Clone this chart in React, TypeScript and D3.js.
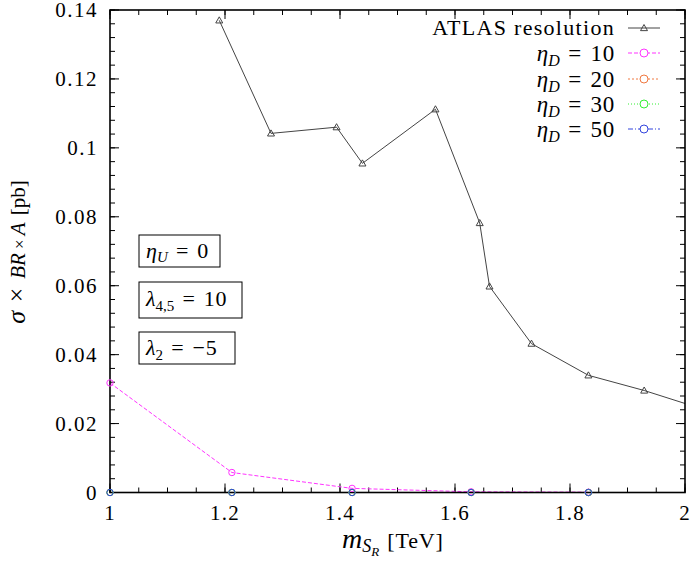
import React from "react";
import * as d3 from "d3";

const atlasX = [1.19, 1.28, 1.394, 1.439, 1.566, 1.643, 1.66, 1.733, 1.832, 1.929, 2.04];
const atlasY = [0.137, 0.1042, 0.106, 0.0955, 0.1112, 0.0782, 0.0598, 0.0432, 0.034, 0.0296, 0.0237];

const etaX = [1.0, 1.212, 1.421, 1.628, 1.832];
const eta10 = [0.0318, 0.0058, 0.0012, 0.0002, 0.0001];
const eta20 = [0, 0, 0, 0, 0];
const eta30 = [0, 0, 0, 0, 0];
const eta50 = [0, 0, 0, 0, 0];

const xTicks = [1, 1.2, 1.4, 1.6, 1.8, 2];
const xTickLabels = ["1", "1.2", "1.4", "1.6", "1.8", "2"];
const yTicks = [0, 0.02, 0.04, 0.06, 0.08, 0.1, 0.12, 0.14];
const yTickLabels = ["0", "0.02", "0.04", "0.06", "0.08", "0.1", "0.12", "0.14"];

const etaSeries = [
  { label: "10", values: eta10, color: "#ff33ff", dash: "4,2" },
  { label: "20", values: eta20, color: "#f07840", dash: "2,2" },
  { label: "30", values: eta30, color: "#33ee33", dash: "1,2" },
  { label: "50", values: eta50, color: "#3344dd", dash: "5,2,1,2" },
];

const W = 694;
const H = 561;
const L = 110, R = 685, T = 10, B = 492.5;
const FONT = "'Liberation Serif', 'Times New Roman', serif";
const SP = "\u2004";

export default function App() {
  const x = d3.scaleLinear().domain([1, 2]).range([L, R]);
  const y = d3.scaleLinear().domain([0, 0.14]).range([B, T]);
  const minorX = d3.range(1, 2.0001, 0.05);
  const minorY = d3.range(0, 0.14001, 0.004);

  const line = d3
    .line<[number, number]>()
    .x((d) => x(d[0]))
    .y((d) => y(d[1]));

  const atlasPts: [number, number][] = atlasX.map((v, i) => [v, atlasY[i]]);
  const tri = (cx: number, cy: number, s = 3.5) =>
    `M${cx},${cy - s} L${cx + s},${cy + s * 0.75} L${cx - s},${cy + s * 0.75} Z`;

  const legendRows = [28, 53, 79, 104, 129];
  const legTextX = 615;
  const legS0 = 628, legS1 = 660, legM = 644;

  return (
    <svg width={W} height={H} style={{ position: "absolute", left: 0, top: 0 }} fontFamily={FONT}>
      <rect x={0} y={0} width={W} height={H} fill="#fff" />
      <defs>
        <clipPath id="plotclip">
          <rect x={L} y={T} width={R - L} height={B - T} />
        </clipPath>
      </defs>

      {/* minor ticks */}
      {minorX.map((v, i) => (
        <g key={"mx" + i} stroke="#000" strokeWidth={1}>
          <line x1={x(v)} x2={x(v)} y1={B} y2={B - 5} />
          <line x1={x(v)} x2={x(v)} y1={T} y2={T + 5} />
        </g>
      ))}
      {minorY.map((v, i) => (
        <g key={"my" + i} stroke="#000" strokeWidth={1}>
          <line x1={L} x2={L + 5} y1={y(v)} y2={y(v)} />
          <line x1={R} x2={R - 5} y1={y(v)} y2={y(v)} />
        </g>
      ))}
      {/* major ticks */}
      {xTicks.map((v, i) => (
        <g key={"Mx" + i} stroke="#000" strokeWidth={1}>
          <line x1={x(v)} x2={x(v)} y1={B} y2={B - 9} />
          <line x1={x(v)} x2={x(v)} y1={T} y2={T + 9} />
        </g>
      ))}
      {yTicks.map((v, i) => (
        <g key={"My" + i} stroke="#000" strokeWidth={1}>
          <line x1={L} x2={L + 9} y1={y(v)} y2={y(v)} />
          <line x1={R} x2={R - 9} y1={y(v)} y2={y(v)} />
        </g>
      ))}

      {/* tick labels */}
      {xTicks.map((v, i) => (
        <text key={"xl" + i} x={x(v)} y={520} fontSize={21} letterSpacing={1.2} textAnchor="middle" fill="#000">
          {xTickLabels[i]}
        </text>
      ))}
      {yTicks.map((v, i) => (
        <text key={"yl" + i} x={98} y={y(v) + 7} fontSize={21} letterSpacing={1.5} textAnchor="end" fill="#000">
          {yTickLabels[i]}
        </text>
      ))}

      {/* series lines */}
      <g clipPath="url(#plotclip)">
        {etaSeries.map((s) => (
          <path
            key={"l" + s.label}
            d={line(etaX.map((v, i) => [v, s.values[i]] as [number, number])) || ""}
            fill="none"
            stroke={s.color}
            strokeWidth={1}
            strokeDasharray={s.dash}
          />
        ))}
        <path d={line(atlasPts) || ""} fill="none" stroke="#444" strokeWidth={1} />
      </g>

      {/* frame */}
      <rect x={L} y={T} width={R - L} height={B - T} fill="none" stroke="#000" strokeWidth={1.6} />

      {/* markers */}
      {etaSeries.map((s) =>
        etaX.map((v, i) => (
          <circle
            key={"c" + s.label + i}
            cx={x(v)}
            cy={y(s.values[i])}
            r={3.2}
            fill="none"
            stroke={s.color}
            strokeWidth={1}
          />
        ))
      )}
      {atlasPts
        .filter((p) => p[0] <= 2)
        .map((p, i) => (
          <path key={"t" + i} d={tri(x(p[0]), y(p[1]))} fill="none" stroke="#444" strokeWidth={1} />
        ))}

      {/* legend */}
      <text x={legTextX} y={legendRows[0] + 7} fontSize={22} letterSpacing={1.3} textAnchor="end" fill="#000">
        ATLAS resolution
      </text>
      <line x1={legS0} x2={legS1} y1={legendRows[0]} y2={legendRows[0]} stroke="#444" strokeWidth={1} />
      <path d={tri(legM, legendRows[0])} fill="none" stroke="#444" strokeWidth={1} />
      {etaSeries.map((s, i) => {
        const yy = legendRows[i + 1];
        return (
          <g key={"lg" + s.label}>
            <text x={legTextX} y={yy + 8} fontSize={23} textAnchor="end" fill="#000">
              <tspan fontStyle="italic">η</tspan>
              <tspan fontStyle="italic" fontSize={16} dy={5}>D</tspan>
              <tspan dy={-5} letterSpacing={0.8}>{SP + "=" + SP + s.label}</tspan>
            </text>
            <line x1={legS0} x2={legS1} y1={yy} y2={yy} stroke={s.color} strokeWidth={1} strokeDasharray={s.dash} />
            <circle cx={legM} cy={yy} r={4} fill="#fff" stroke={s.color} strokeWidth={1} />
          </g>
        );
      })}

      {/* parameter boxes */}
      <rect x={139} y={235} width={81} height={32} fill="#fff" stroke="#000" strokeWidth={1} />
      <text x={146} y={258} fontSize={22} fill="#000">
        <tspan fontStyle="italic">η</tspan>
        <tspan fontStyle="italic" fontSize={15} dy={4}>U</tspan>
        <tspan dy={-4} letterSpacing={0.8}>{SP + "=" + SP + "0"}</tspan>
      </text>
      <rect x={139} y={282} width={103} height={36} fill="#fff" stroke="#000" strokeWidth={1} />
      <text x={146} y={306} fontSize={22} fill="#000">
        <tspan fontStyle="italic">λ</tspan>
        <tspan fontSize={15} dy={5}>4,5</tspan>
        <tspan dy={-5} letterSpacing={0.8}>{SP + "=" + SP + "10"}</tspan>
      </text>
      <rect x={139} y={332} width={96} height={32} fill="#fff" stroke="#000" strokeWidth={1} />
      <text x={146} y={355} fontSize={22} fill="#000">
        <tspan fontStyle="italic">λ</tspan>
        <tspan fontSize={15} dy={5}>2</tspan>
        <tspan dy={-5} letterSpacing={0.8}>{SP + "=" + SP + "−5"}</tspan>
      </text>

      {/* axis labels */}
      <text x={342} y={548} fontSize={28} fill="#000">
        <tspan fontStyle="italic">m</tspan>
        <tspan fontStyle="italic" fontSize={18} dy={4}>S</tspan>
        <tspan fontStyle="italic" fontSize={13} dy={4}>R</tspan>
        <tspan fontSize={22} dy={-8} letterSpacing={0.8}>{SP + "[TeV]"}</tspan>
      </text>
      <text transform="translate(25,252) rotate(-90)" textAnchor="middle" fill="#000">
        <tspan fontStyle="italic" fontSize={26}>σ</tspan>
        <tspan fontSize={26}>{SP + "×" + SP}</tspan>
        <tspan fontStyle="italic" fontSize={21}>BR</tspan>
        <tspan fontSize={17}>{" × "}</tspan>
        <tspan fontStyle="italic" fontSize={21}>A</tspan>
        <tspan fontSize={21}>{SP + "[pb]"}</tspan>
      </text>
    </svg>
  );
}
